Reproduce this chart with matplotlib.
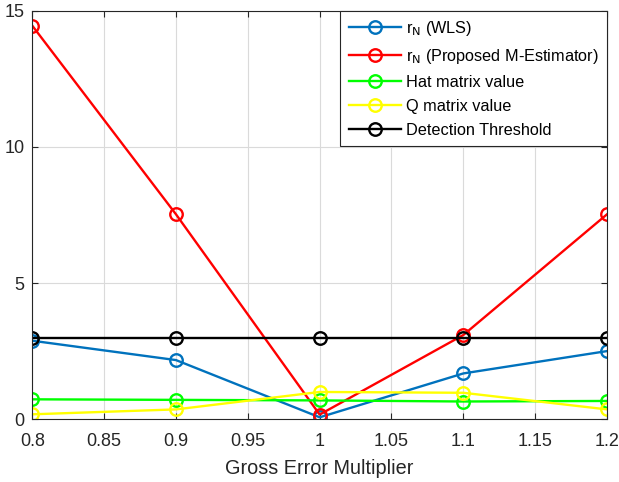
import matplotlib.pyplot as plt

plt.rcParams['font.family'] = ['Liberation Sans', 'DejaVu Sans']

multiplier = [0.8, 0.9, 1.0, 1.1, 1.2]
rn_wls = [2.89, 2.18, 0.08, 1.69, 2.51]
rn_mest = [14.45, 7.53, 0.18, 3.1, 7.53]
hat_val = [0.74, 0.72, 0.7, 0.66, 0.68]
q_val = [0.19, 0.37, 1.01, 0.98, 0.37]
threshold = [3, 3, 3, 3, 3]

xticks = [0.8, 0.85, 0.9, 0.95, 1.0, 1.05, 1.1, 1.15, 1.2]
xtick_labels = ['0.8', '0.85', '0.9', '0.95', '1', '1.05', '1.1', '1.15', '1.2']

fig = plt.figure(figsize=(6.19, 4.82), dpi=100)
ax = fig.add_axes([0.0522, 0.1297, 0.9284, 0.848])

style = dict(marker='o', markersize=9, markerfacecolor='none',
             linewidth=1.7, markeredgewidth=1.7)
ax.plot(multiplier, rn_wls, color='#0072BD', label=r'r$_{\rm N}$ (WLS)', **style)
ax.plot(multiplier, rn_mest, color='#FF0000',
        label=r'r$_{\rm N}$ (Proposed M-Estimator)', **style)
ax.plot(multiplier, hat_val, color='#00FF00', label='Hat matrix value', **style)
ax.plot(multiplier, q_val, color='#FFFF00', label='Q matrix value', **style)
ax.plot(multiplier, threshold, color='black', label='Detection Threshold', **style)

ax.set_xlim(0.8, 1.2)
ax.set_ylim(0, 15)
ax.set_xticks(xticks)
ax.set_xticklabels(xtick_labels)
ax.set_yticks([0, 5, 10, 15])
ax.tick_params(direction='in', top=True, right=True, labelsize=13,
               colors='#262626', length=4.5)
ax.tick_params(axis='x', pad=9.5)
ax.tick_params(axis='y', pad=5.5)
for s in ax.spines.values():
    s.set_color('#262626')
    s.set_linewidth(0.8)
ax.grid(True, color='#DADADA', linewidth=0.8)
ax.set_axisbelow(True)
ax.set_xlabel('Gross Error Multiplier', fontsize=14.3, color='#262626', labelpad=7)

leg = ax.legend(loc='upper right', fontsize=11.7, fancybox=False, framealpha=1,
                edgecolor='#262626', borderpad=0.5, labelspacing=0.55,
                handlelength=3.2, handletextpad=0.35, borderaxespad=0)
leg.get_frame().set_linewidth(0.8)

fig.savefig('out.png', dpi=100)
